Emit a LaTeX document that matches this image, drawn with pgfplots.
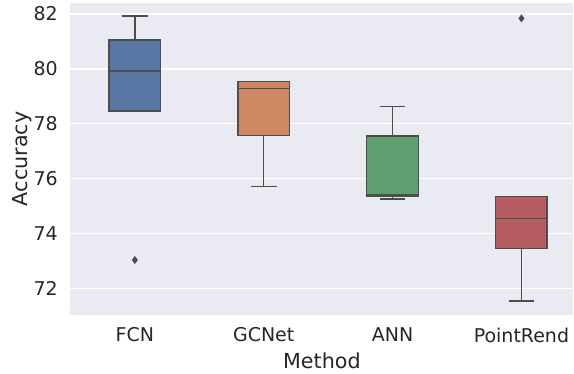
\documentclass[border=0pt]{standalone}
\usepackage{fontspec}
\setmainfont{DejaVu Sans}
\usepackage{pgfplots}
\pgfplotsset{compat=1.18}
\definecolor{bg}{HTML}{EAEAF2}
\definecolor{ln}{HTML}{4D4D4D}
\definecolor{txt}{HTML}{262626}
\definecolor{cb}{HTML}{5875A4}
\definecolor{co}{HTML}{CC8963}
\definecolor{cg}{HTML}{5F9E6E}
\definecolor{cr}{HTML}{B55D60}
\begin{document}
\begin{tikzpicture}
\begin{axis}[
  at={(0,0)}, anchor=south west,
  scale only axis, width=503.5bp, height=312bp,
  xmin=-0.5, xmax=3.403, ymin=71.05, ymax=82.4,
  axis background/.style={fill=bg},
  axis line style={draw=none},
  major tick length=0pt,
  ytick={72,74,76,78,80,82},
  xtick={0,1,2,3}, xticklabels={FCN,GCNet,ANN,PointRend},
  ymajorgrids, grid style={white, line width=1.3bp},
  /pgf/number format/assume math mode=true,
  yticklabel style={font=\fontsize{19bp}{23bp}\selectfont, text=txt, inner sep=0pt, anchor=east, xshift=-12.5bp},
  xticklabel style={font=\fontsize{19bp}{23bp}\selectfont, text=txt, inner sep=0pt, anchor=north, yshift=-13bp},
  xlabel={Method}, ylabel={Accuracy},
  xlabel style={font=\fontsize{20.7bp}{25bp}\selectfont, text=txt, inner sep=0pt, at={(axis description cs:0.5,0)}, anchor=north, yshift=-38bp},
  ylabel style={font=\fontsize{20.7bp}{25bp}\selectfont, text=txt, inner sep=0pt, at={(axis description cs:-0.1162,0.5)}, anchor=north},
  every axis plot/.append style={line width=1.4bp, draw=ln, mark=none},
  whisk/.style={line width=1.4bp, draw=ln},
  outl/.style={only marks, mark=diamond*, mark size=3.6bp, mark options={fill=ln, draw=ln, line width=0.5bp}},
]
% FCN
\addplot[whisk] coordinates {(0,81.05) (0,81.93)};
\addplot[whisk] coordinates {(-0.1,81.93) (0.1,81.93)};
\addplot[whisk] coordinates {(-0.1,78.46) (0.1,78.46)};
\addplot[fill=cb] coordinates {(-0.2,78.46) (0.2,78.46) (0.2,81.05) (-0.2,81.05)} -- cycle;
\addplot[whisk] coordinates {(-0.2,79.92) (0.2,79.92)};
\addplot[outl] coordinates {(0,73.04)};
% GCNet
\addplot[whisk] coordinates {(1,77.57) (1,75.72)};
\addplot[whisk] coordinates {(0.9,75.72) (1.1,75.72)};
\addplot[whisk] coordinates {(0.9,79.54) (1.1,79.54)};
\addplot[fill=co] coordinates {(0.8,77.57) (1.2,77.57) (1.2,79.54) (0.8,79.54)} -- cycle;
\addplot[whisk] coordinates {(0.8,79.28) (1.2,79.28)};
% ANN
\addplot[whisk] coordinates {(2,77.56) (2,78.63)};
\addplot[whisk] coordinates {(1.9,78.63) (2.1,78.63)};
\addplot[whisk] coordinates {(2,75.35) (2,75.26)};
\addplot[whisk] coordinates {(1.9,75.26) (2.1,75.26)};
\addplot[fill=cg] coordinates {(1.8,75.35) (2.2,75.35) (2.2,77.56) (1.8,77.56)} -- cycle;
\addplot[whisk] coordinates {(1.8,75.41) (2.2,75.41)};
% PointRend
\addplot[whisk] coordinates {(3,73.45) (3,71.54)};
\addplot[whisk] coordinates {(2.9,71.54) (3.1,71.54)};
\addplot[whisk] coordinates {(2.9,75.35) (3.1,75.35)};
\addplot[fill=cr] coordinates {(2.8,73.45) (3.2,73.45) (3.2,75.35) (2.8,75.35)} -- cycle;
\addplot[whisk] coordinates {(2.8,74.55) (3.2,74.55)};
\addplot[outl] coordinates {(3,81.84)};
\end{axis}
\path[use as bounding box] (-70.5bp,-59bp) rectangle (503.5bp,315bp);
\end{tikzpicture}
\end{document}
